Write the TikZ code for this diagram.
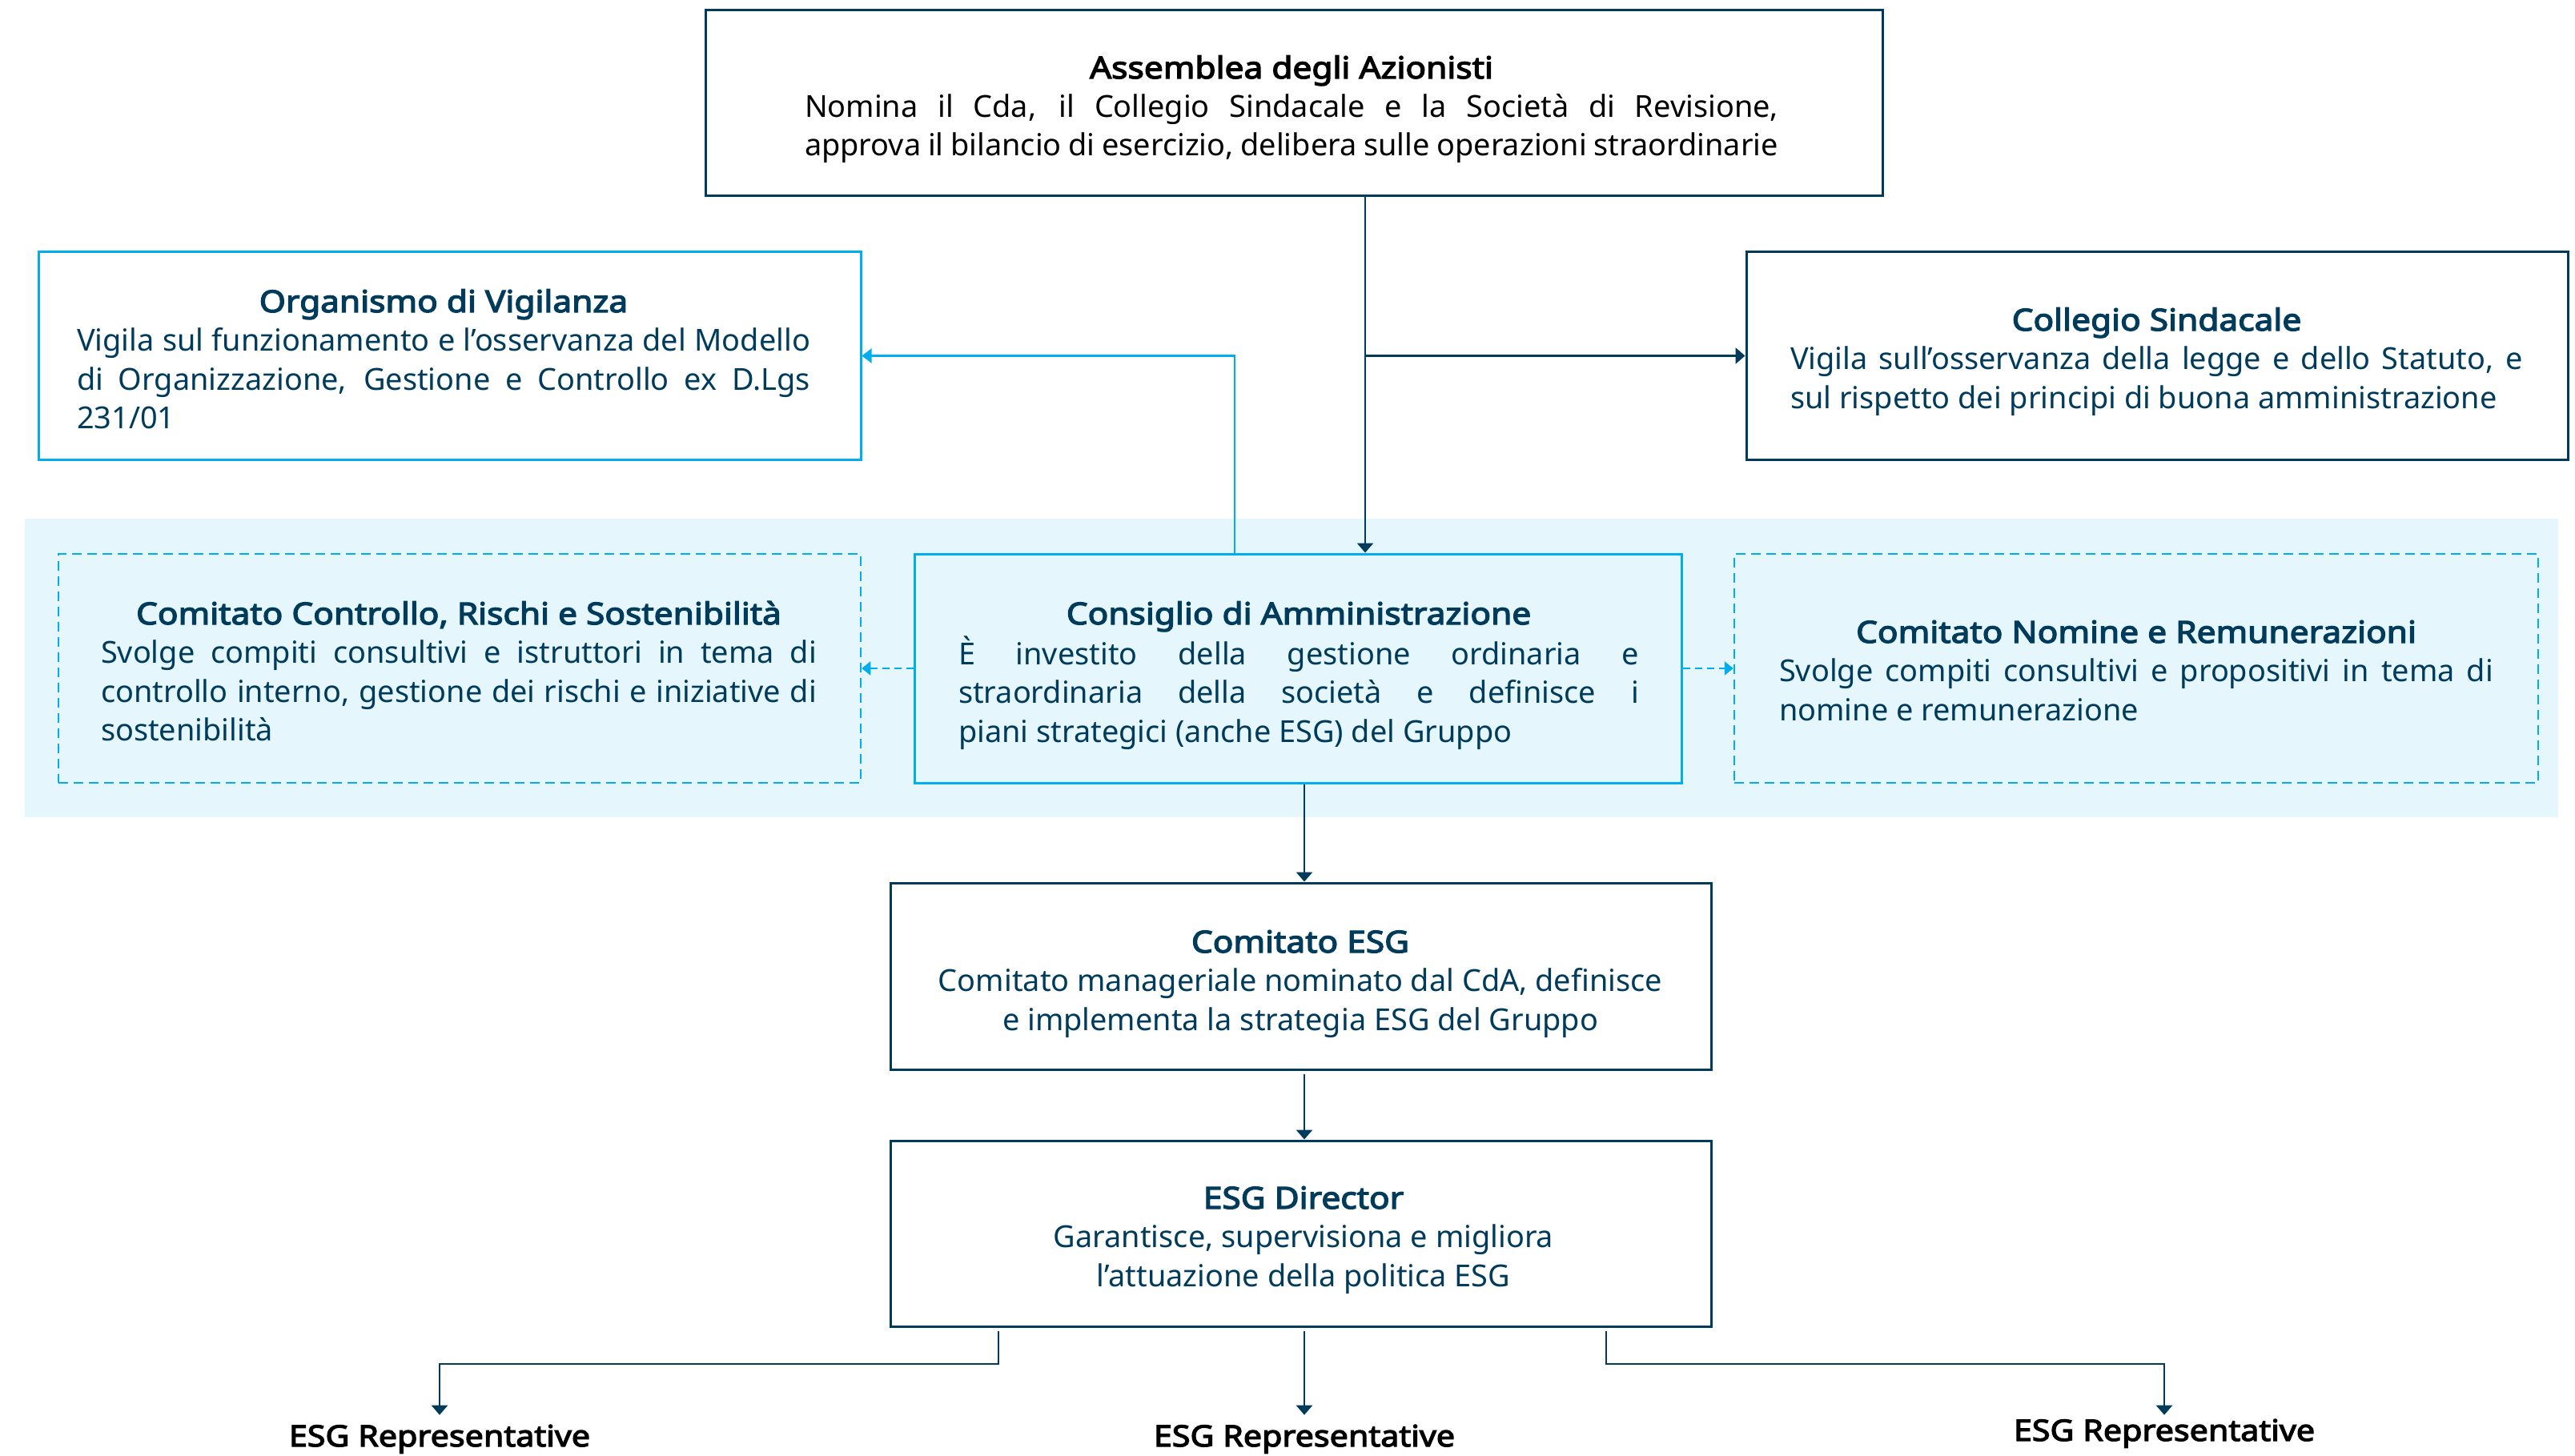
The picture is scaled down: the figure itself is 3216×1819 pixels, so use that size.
\documentclass[tikz,border=0pt]{standalone}
\usepackage{fontspec}
\setmainfont{Noto Sans}[BoldFont={Noto Sans}, BoldFeatures={FakeBold=3.5, FakeStretch=1.12}]
\usetikzlibrary{arrows.meta}
\definecolor{navy}{HTML}{003B5C}
\definecolor{cyanb}{HTML}{00AEEF}
\definecolor{bandc}{HTML}{E5F6FD}
\newcommand\LJ[2]{\makebox[#1][s]{#2}}
\newcommand\LL[2]{\makebox[#1][l]{#2}}
\newcommand\LC[2]{\makebox[#1][c]{#2}}
\tikzset{
  navybox/.style={draw=navy, line width=3pt, inner sep=0pt},
  cyanbox/.style={draw=cyanb, line width=3pt, inner sep=0pt},
  dashbox/.style={draw=cyanb, line width=2.5pt, dash pattern=on 12pt off 7pt, inner sep=0pt},
  txt/.style={inner sep=0pt, anchor=base, text=navy, font=\fontsize{37.9pt}{48.5pt}\selectfont},
  rep/.style={inner sep=0pt, inner ysep=12pt, anchor=base, text=black, font=\fontsize{36.8pt}{48pt}\selectfont\bfseries},
  conn/.style={draw=navy, line width=2.7pt, -{Triangle[length=12pt,width=20pt]}},
  cconn/.style={draw=cyanb, line width=2.7pt, -{Triangle[length=12pt,width=18pt]}},
  dconn/.style={draw=cyanb, line width=2.5pt, dash pattern=on 9pt off 6pt, -{Triangle[length=11pt,width=17pt]}},
}
\begin{document}
\begin{tikzpicture}[x=1pt, y=-1pt]
\useasboundingbox (0,0) rectangle (3216,1819);
% background band
\node[fill=bandc, inner sep=0pt, minimum width=3164pt, minimum height=373pt] (band) at (1613,834.5) {};
% boxes
\node[navybox, minimum width=1470pt, minimum height=232pt] (asm) at (1616,129) {};
\node[cyanbox, minimum width=1027pt, minimum height=259pt] (odv) at (561.5,444.5) {};
\node[navybox, minimum width=1026pt, minimum height=259pt] (col) at (2694,444.5) {};
\node[dashbox, minimum width=1002pt, minimum height=286pt] (ccrs) at (574,835) {};
\node[cyanbox, minimum width=958pt, minimum height=286pt] (cda) at (1621,835) {};
\node[dashbox, minimum width=1004pt, minimum height=286pt] (cnr) at (2668,835) {};
\node[navybox, minimum width=1025pt, minimum height=233pt] (cesg) at (1624.5,1219.5) {};
\node[navybox, minimum width=1025pt, minimum height=232pt] (dir) at (1624.5,1541) {};
% texts
\node[txt, text=black] (asmT) at (1613,98) {\begin{tabular}[t]{@{}c@{}}
\LC{1216pt}{\bfseries Assemblea degli Azionisti}\\
\LJ{1216pt}{Nomina il Cda, il Collegio Sindacale e la Società di Revisione,}\\
\LJ{1216pt}{approva il bilancio di esercizio, delibera sulle operazioni straordinarie}
\end{tabular}};
\node[txt] (odvT) at (554,390) {\begin{tabular}[t]{@{}c@{}}
\LC{916pt}{\bfseries Organismo di Vigilanza}\\
\LJ{916pt}{Vigila sul funzionamento e l’osservanza del Modello}\\
\LJ{916pt}{di Organizzazione, Gestione e Controllo ex D.Lgs}\\
\LL{916pt}{231/01}
\end{tabular}};
\node[txt] (colT) at (2693.5,413) {\begin{tabular}[t]{@{}c@{}}
\LC{915pt}{\bfseries Collegio Sindacale}\\
\LJ{915pt}{Vigila sull’osservanza della legge e dello Statuto, e}\\
\LL{915pt}{sul rispetto dei principi di buona amministrazione}
\end{tabular}};
\node[txt] (ccrsT) at (573,780) {\begin{tabular}[t]{@{}c@{}}
\LC{894pt}{\bfseries Comitato Controllo, Rischi e Sostenibilità}\\
\LJ{894pt}{Svolge compiti consultivi e istruttori in tema di}\\
\LJ{894pt}{controllo interno, gestione dei rischi e iniziative di}\\
\LL{894pt}{sostenibilità}
\end{tabular}};
\node[txt] (cdaT) at (1622,780) {\begin{tabular}[t]{@{}c@{}}
\LC{850pt}{\bfseries Consiglio di Amministrazione}\\
\LJ{850pt}{È investito della gestione ordinaria e}\\
\LJ{850pt}{straordinaria della società e definisce i}\\
\LL{850pt}{piani strategici (anche ESG) del Gruppo}
\end{tabular}};
\node[txt] (cnrT) at (2668,803) {\begin{tabular}[t]{@{}c@{}}
\LC{892pt}{\bfseries Comitato Nomine e Remunerazioni}\\
\LJ{892pt}{Svolge compiti consultivi e propositivi in tema di}\\
\LL{892pt}{nomine e remunerazione}
\end{tabular}};
\node[txt] (cesgT) at (1624,1190) {\begin{tabular}[t]{@{}c@{}}
\LC{960pt}{\bfseries Comitato ESG}\\
\LC{960pt}{Comitato manageriale nominato dal CdA, definisce}\\
\LC{960pt}{e implementa la strategia ESG del Gruppo}
\end{tabular}};
\node[txt] (dirT) at (1628,1510) {\begin{tabular}[t]{@{}c@{}}
\LC{960pt}{\bfseries ESG Director}\\
\LC{960pt}{Garantisce, supervisiona e migliora}\\
\LC{960pt}{l’attuazione della politica ESG}
\end{tabular}};
% representatives
\node[rep] (rep1) at (549,1807) {ESG Representative};
\node[rep] (rep2) at (1629,1807) {ESG Representative};
\node[rep, inner ysep=5pt] (rep3) at (2703,1800) {ESG Representative};
% helper coordinates
\coordinate (x1) at (1705,0);
\coordinate (x2) at (1542,0);
\coordinate (x3) at (1629,0);
\coordinate (xl) at (1247,0);
\coordinate (xr) at (2006,0);
\coordinate (yh) at (0,1704);
% connectors
\draw[conn] (asm.south -| x1) -- (cda.north -| x1);
\draw[conn] (x1 |- col.west) -- (col.west);
\draw[cconn] (cda.north -| x2) |- (odv.east);
\draw[dconn] (cda.west) -- (ccrs.east);
\draw[dconn] (cda.east) -- (cnr.west);
\draw[conn] (cda.south -| x3) -- (cesg.north -| x3);
\draw[conn, shorten <=4pt] (cesg.south -| x3) -- (dir.north -| x3);
\draw[conn, shorten <=4pt] (dir.south -| xl) -- (xl |- yh) -| (rep1.north);
\draw[conn, shorten <=4pt] (dir.south -| x3) -- (rep2.north);
\draw[conn, shorten <=4pt] (dir.south -| xr) -- (xr |- yh) -| (rep3.north);
\end{tikzpicture}
\end{document}
